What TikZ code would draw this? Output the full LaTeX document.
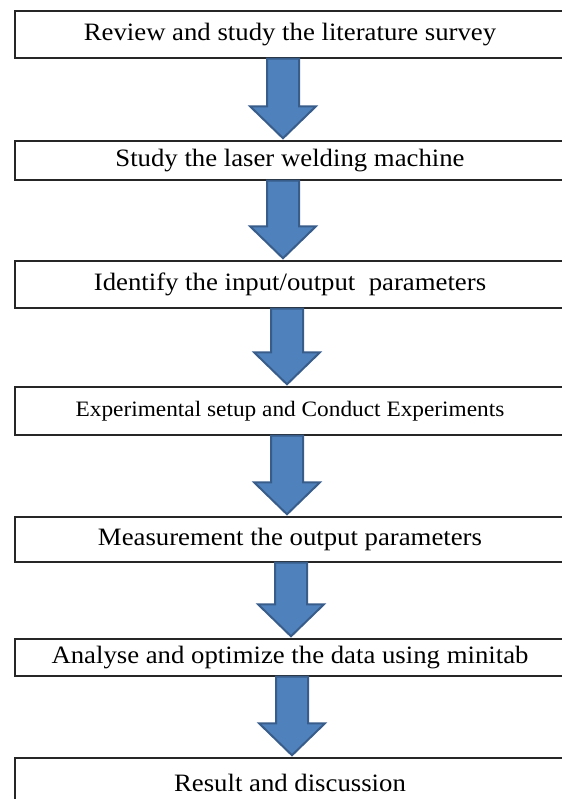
\documentclass[tikz,border=0pt]{standalone}
\usepackage{fontspec}
\setmainfont{Liberation Serif}
\newfontfamily\boxfont[FakeStretch=1.07]{Liberation Serif}
\newfontfamily\boxfontb[FakeStretch=1.06]{Liberation Serif}
\usetikzlibrary{calc}
\definecolor{arrowfill}{HTML}{4F81BD}
\definecolor{arrowedge}{HTML}{385D8A}
\tikzset{
  stepbox/.style={draw=black!85, line width=1.1pt, fill=white, minimum width=412.5pt,
    inner sep=0pt, text=black, font=\boxfont\fontsize{18.75pt}{22pt}\selectfont},
  narrowtext/.style={font=\boxfontb\fontsize{16.5pt}{20pt}\selectfont},
  barrow/.style={draw=arrowedge, fill=arrowfill, line width=1.5pt, line join=miter},
}
% block arrow from node #1 to node #2, shifted by #3 (px) horizontally
\newcommand{\flowarrow}[3]{%
  \draw[barrow] let \p1=($(#1.south)+(#3,0)$), \p2=($(#2.north)+(#3,0)$) in
    (\x1-12pt,\y1) -- (\x1+12pt,\y1) -- (\x1+12pt,\y2+25.5pt) -- (\x1+24.75pt,\y2+25.5pt)
    -- (\x1,\y2+1.5pt) -- (\x1-24.75pt,\y2+25.5pt) -- (\x1-12pt,\y2+25.5pt) -- cycle;}
\begin{document}
\begin{tikzpicture}[x=0.75pt,y=-0.75pt]
\useasboundingbox[fill=white] (0,0) rectangle (561,799);
\node[stepbox, minimum height=35.25pt] (b1) at (290,34.5) {Review and study the literature survey};
\node[stepbox, minimum height=29.25pt] (b2) at (290,160.5) {Study the laser welding machine};
\node[stepbox, minimum height=35.25pt] (b3) at (290,284.5) {Identify the input/output\ \ parameters};
\node[stepbox, narrowtext, minimum height=36pt] (b4) at (290,411) {Experimental setup and Conduct Experiments};
\node[stepbox, minimum height=33.75pt] (b5) at (290,539.5) {Measurement the output parameters};
\node[stepbox, minimum height=27.75pt] (b6) at (290,657.5) {Analyse and optimize the data using minitab};
\node[stepbox, minimum height=37.5pt] (b7) at (290,783) {Result and discussion};
\flowarrow{b1}{b2}{-7}
\flowarrow{b2}{b3}{-7}
\flowarrow{b3}{b4}{-3}
\flowarrow{b4}{b5}{-3}
\flowarrow{b5}{b6}{1}
\flowarrow{b6}{b7}{2}
\end{tikzpicture}
\end{document}
